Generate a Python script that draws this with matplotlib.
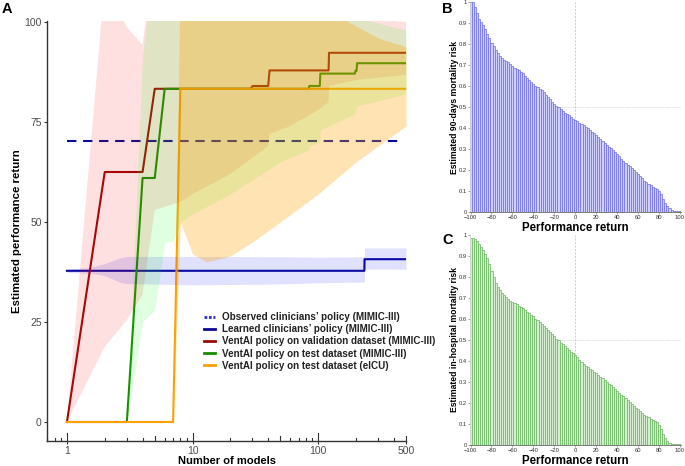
import numpy as np
import matplotlib.pyplot as plt
from matplotlib.lines import Line2D

plt.rcParams['font.family'] = ['Liberation Sans', 'DejaVu Sans']

# ---- panel A data -------------------------------------------------------
observed_clin = 70.2

learned_x = [1, 233, 234, 500]
learned_y = [37.8, 37.8, 40.7, 40.7]
learned_band_x = [1, 1.5, 2, 2.6, 3, 10, 50, 100, 233, 234, 500]
learned_lo = [37.4, 37.2, 36.6, 35.0, 34.6, 34.3, 34.5, 34.8, 35.0, 38.2, 38.2]
learned_hi = [38.2, 38.6, 39.6, 41.0, 41.4, 41.4, 41.3, 41.2, 41.3, 43.5, 43.5]

val_x = [1, 2, 4, 5, 29, 30, 40, 41, 121, 122, 500]
val_y = [0, 62.5, 62.5, 83.3, 83.3, 84.0, 84.0, 87.9, 87.9, 92.3, 92.3]
val_band_x = [1, 2, 3, 4, 5, 8, 10, 20, 40, 41, 60, 100, 121, 122, 200, 500]
val_lo = [0, 18.8, 25.5, 31.8, 53, 55, 57, 62, 69, 72, 74, 78, 80, 84, 85.5, 86.8]
val_hi = [0, 110, 98.7, 94.3, 118, 118, 118, 115, 112, 112, 108, 104, 103, 103, 101, 100]

test_x = [1, 3, 4, 5, 6, 84, 85, 103, 104, 196, 198, 202, 204, 500]
test_y = [0, 0, 61.0, 61.0, 83.3, 83.3, 84.0, 84.0, 87.1, 87.1, 87.8, 87.8, 89.7, 89.7]
test_band_x = [1, 3, 4, 5, 6, 7, 8, 10, 20, 50, 84, 85, 103, 104, 196, 204, 500]
test_lo = [0, 0, 25, 28, 45, 45, 50, 52, 57, 65, 68, 69, 70, 73, 77, 79, 82]
test_hi = [0, 0, 91.7, 115, 115, 115, 115, 115, 112, 108, 105, 105, 104, 104, 101, 101, 98]

eicu_x = [1, 7, 8, 500]
eicu_y = [0, 0, 83.3, 83.3]
eicu_band_x = [1, 7, 8, 10, 13, 20, 30, 50, 100, 200, 300, 500]
eicu_lo = [0, 0, 50, 42, 40, 41.5, 45, 50, 57, 65, 69, 74]
eicu_hi = [0, 0, 115, 115, 115, 112, 110, 108, 104, 99, 96, 93.8]

# ---- panels B / C data --------------------------------------------------
perf_return = np.arange(-100, 101, 2)
mort_90d = [1.0, 1.0, 0.976, 0.948, 0.92, 0.905, 0.89, 0.87, 0.85, 0.83,
            0.806, 0.79, 0.77, 0.757, 0.743, 0.735, 0.726, 0.72, 0.713, 0.704,
            0.697, 0.688, 0.68, 0.675, 0.669, 0.66, 0.648, 0.639, 0.628, 0.618,
            0.609, 0.6, 0.593, 0.588, 0.58, 0.57, 0.559, 0.548, 0.537, 0.526,
            0.513, 0.504, 0.498, 0.49, 0.48, 0.472, 0.466, 0.46, 0.453, 0.445,
            0.437, 0.431, 0.425, 0.418, 0.412, 0.406, 0.398, 0.39, 0.382, 0.374,
            0.366, 0.358, 0.349, 0.339, 0.33, 0.32, 0.31, 0.303, 0.293, 0.284,
            0.274, 0.265, 0.254, 0.244, 0.235, 0.225, 0.217, 0.208, 0.198, 0.19,
            0.18, 0.171, 0.16, 0.15, 0.141, 0.133, 0.127, 0.12, 0.116, 0.109,
            0.101, 0.084, 0.063, 0.044, 0.029, 0.017, 0.01, 0.006, 0.005, 0.005,
            0.006]
mort_hosp = [0.984, 0.984, 0.98, 0.97, 0.957, 0.945, 0.929, 0.91, 0.889, 0.862,
             0.83, 0.802, 0.773, 0.754, 0.738, 0.726, 0.713, 0.704, 0.696, 0.686,
             0.68, 0.675, 0.67, 0.664, 0.659, 0.651, 0.643, 0.634, 0.628, 0.62,
             0.612, 0.602, 0.593, 0.585, 0.577, 0.567, 0.559, 0.55, 0.54, 0.529,
             0.517, 0.507, 0.498, 0.488, 0.479, 0.471, 0.463, 0.453, 0.445, 0.437,
             0.428, 0.418, 0.406, 0.393, 0.384, 0.377, 0.371, 0.364, 0.357, 0.349,
             0.341, 0.333, 0.325, 0.317, 0.309, 0.301, 0.292, 0.284, 0.276, 0.268,
             0.258, 0.249, 0.239, 0.231, 0.222, 0.214, 0.204, 0.197, 0.187, 0.177,
             0.17, 0.16, 0.152, 0.144, 0.138, 0.132, 0.125, 0.12, 0.116, 0.109,
             0.097, 0.076, 0.054, 0.035, 0.019, 0.011, 0.006, 0.005, 0.003, 0.003,
             0.003]

legend_labels = ["Observed clinicians\u2019 policy (MIMIC-III)",
                 "Learned clinicians\u2019 policy (MIMIC-III)",
                 "VentAI policy on validation dataset (MIMIC-III)",
                 "VentAI policy on test dataset (MIMIC-III)",
                 "VentAI policy on test dataset (eICU)"]

C_BLUE = '#0a0a96'
C_RED = '#9a0a0a'
C_GREEN = '#1a8a00'
C_ORANGE = '#ffa000'
GREY = '#4d4d4d'

fig = plt.figure(figsize=(6.85, 4.66), dpi=100)

# ---- panel A ------------------------------------------------------------
ax = fig.add_axes([47 / 685, 1 - 441 / 466, 359 / 685, 420 / 466])
ax.set_xscale('log')
ax.set_xlim(0.694, 500)
ax.set_ylim(-4.75, 100.25)

lw = 1.5
ax.plot([1, 450], [observed_clin, observed_clin], color=C_BLUE, lw=lw,
        dashes=(4.5, 3.2), zorder=1)
ax.plot(learned_x, learned_y, color=C_BLUE, lw=lw, zorder=1)
ax.plot(val_x, val_y, color=C_RED, lw=lw, zorder=1)
ax.plot(test_x, test_y, color=C_GREEN, lw=lw, zorder=1)
ax.plot(eicu_x, eicu_y, color=C_ORANGE, lw=lw, zorder=1)

# ribbons go on top of the lines (as in the original)
ax.fill_between(learned_band_x, learned_lo, learned_hi, color='blue', alpha=0.12, lw=0, zorder=2)
ax.fill_between(val_band_x, val_lo, val_hi, color='red', alpha=0.12, lw=0, zorder=2)
ax.fill_between(test_band_x, test_lo, test_hi, color='lime', alpha=0.12, lw=0, zorder=2)
ax.fill_between(eicu_band_x, eicu_lo, eicu_hi, color='orange', alpha=0.3, lw=0, zorder=2)

for s in ['top', 'right']:
    ax.spines[s].set_visible(False)
for s in ['left', 'bottom']:
    ax.spines[s].set_color('#333333')
    ax.spines[s].set_linewidth(1.0)

ax.set_yticks([0, 25, 50, 75, 100])
ax.set_xticks([1, 10, 100, 500])
ax.set_xticklabels(['1', '10', '100', '500'])
ax.xaxis.set_minor_locator(plt.NullLocator())
ax.tick_params(axis='both', which='major', length=2.5, color='#333333',
               labelcolor=GREY, labelsize=7.5, width=0.8, pad=1.2)

# log ticks inside the panel
trans = ax.get_xaxis_transform()
for dec in [0.1, 1, 10, 100]:
    for m in range(1, 10):
        t = dec * m
        if t < 0.694 or t > 500:
            continue
        h = 0.019 if m == 1 else (0.011 if m == 5 else 0.007)
        ax.plot([t, t], [0, h], transform=trans, color='#333333', lw=0.8,
                clip_on=False, zorder=5)

ax.set_xlabel('Number of models', fontsize=8, fontweight='bold')
ax.set_ylabel('Estimated performance return', fontsize=8.2, fontweight='bold')
ax.xaxis.set_label_coords(0.5, -(456.5 - 441) / 420)
ax.yaxis.set_label_coords(-(47 - 22) / 359, 0.5)

handles = [Line2D([], [], color='#3030d0', lw=2, dashes=(1, 0.6)),
           Line2D([], [], color=C_BLUE, lw=2),
           Line2D([], [], color=C_RED, lw=2),
           Line2D([], [], color=C_GREEN, lw=2),
           Line2D([], [], color=C_ORANGE, lw=2)]
leg = ax.legend(handles, legend_labels, loc='upper left', frameon=False,
                bbox_to_anchor=(204 / 685, 1 - 312 / 466), bbox_transform=fig.transFigure,
                prop={'weight': 'bold', 'size': 7.1}, handlelength=1.1,
                handletextpad=0.7, labelspacing=0.22, borderpad=0, borderaxespad=0)
for t in leg.get_texts():
    t.set_color('#222222')


# ---- panels B and C -----------------------------------------------------
def bar_panel(rect, values, face, edge, ylabel):
    bx = fig.add_axes(rect)
    bx.bar(perf_return, values, width=2, color=face, edgecolor=edge, linewidth=0.5)
    bx.set_xlim(-100.5, 101)
    bx.set_ylim(0, 1.0)
    bx.axvline(0, color='#bbbbbb', lw=0.5, ls=(0, (3, 2)), zorder=0)
    bx.axhline(0.5, color='#bbbbbb', lw=0.5, ls=(0, (1, 1.5)), zorder=0)
    for s in ['top', 'right']:
        bx.spines[s].set_visible(False)
    bx.spines['left'].set_color('#cccccc')
    bx.spines['left'].set_linewidth(0.5)
    bx.spines['bottom'].set_color('#666666')
    bx.spines['bottom'].set_linewidth(0.6)
    bx.set_xticks(np.arange(-100, 101, 20))
    bx.set_yticks(np.arange(0, 1.01, 0.1))
    bx.set_yticklabels(['0'] + ['%.1f' % v for v in np.arange(0.1, 0.95, 0.1)] + ['1'])
    bx.tick_params(length=1.5, width=0.4, labelsize=4.2, labelcolor='#333333',
                   color='#666666', pad=1)
    bx.set_xlabel('Performance return', fontsize=8.3, fontweight='bold', labelpad=1)
    bx.set_ylabel(ylabel, fontsize=6.2, fontweight='bold')
    bx.yaxis.set_label_coords(-(470 - 459) / 211, 0.5)
    return bx


bar_panel([470 / 685, 1 - 212 / 466, 211 / 685, 210 / 466], mort_90d,
          (0.82, 0.82, 1.0), (0.42, 0.42, 0.94), 'Estimated 90-days mortality risk')
bar_panel([470 / 685, 1 - 445 / 466, 211 / 685, 210 / 466], mort_hosp,
          (0.84, 0.93, 0.82), (0.4, 0.72, 0.36), 'Estimated in-hospital mortality risk')

fig.text(2 / 685, 1 - 2 / 466, 'A', fontsize=10.5, fontweight='bold', va='top')
fig.text(442 / 685, 1 - 2 / 466, 'B', fontsize=10.5, fontweight='bold', va='top')
fig.text(442 / 685, 1 - 233 / 466, 'C', fontsize=10.5, fontweight='bold', va='top')

fig.savefig('out.png', dpi=100)
